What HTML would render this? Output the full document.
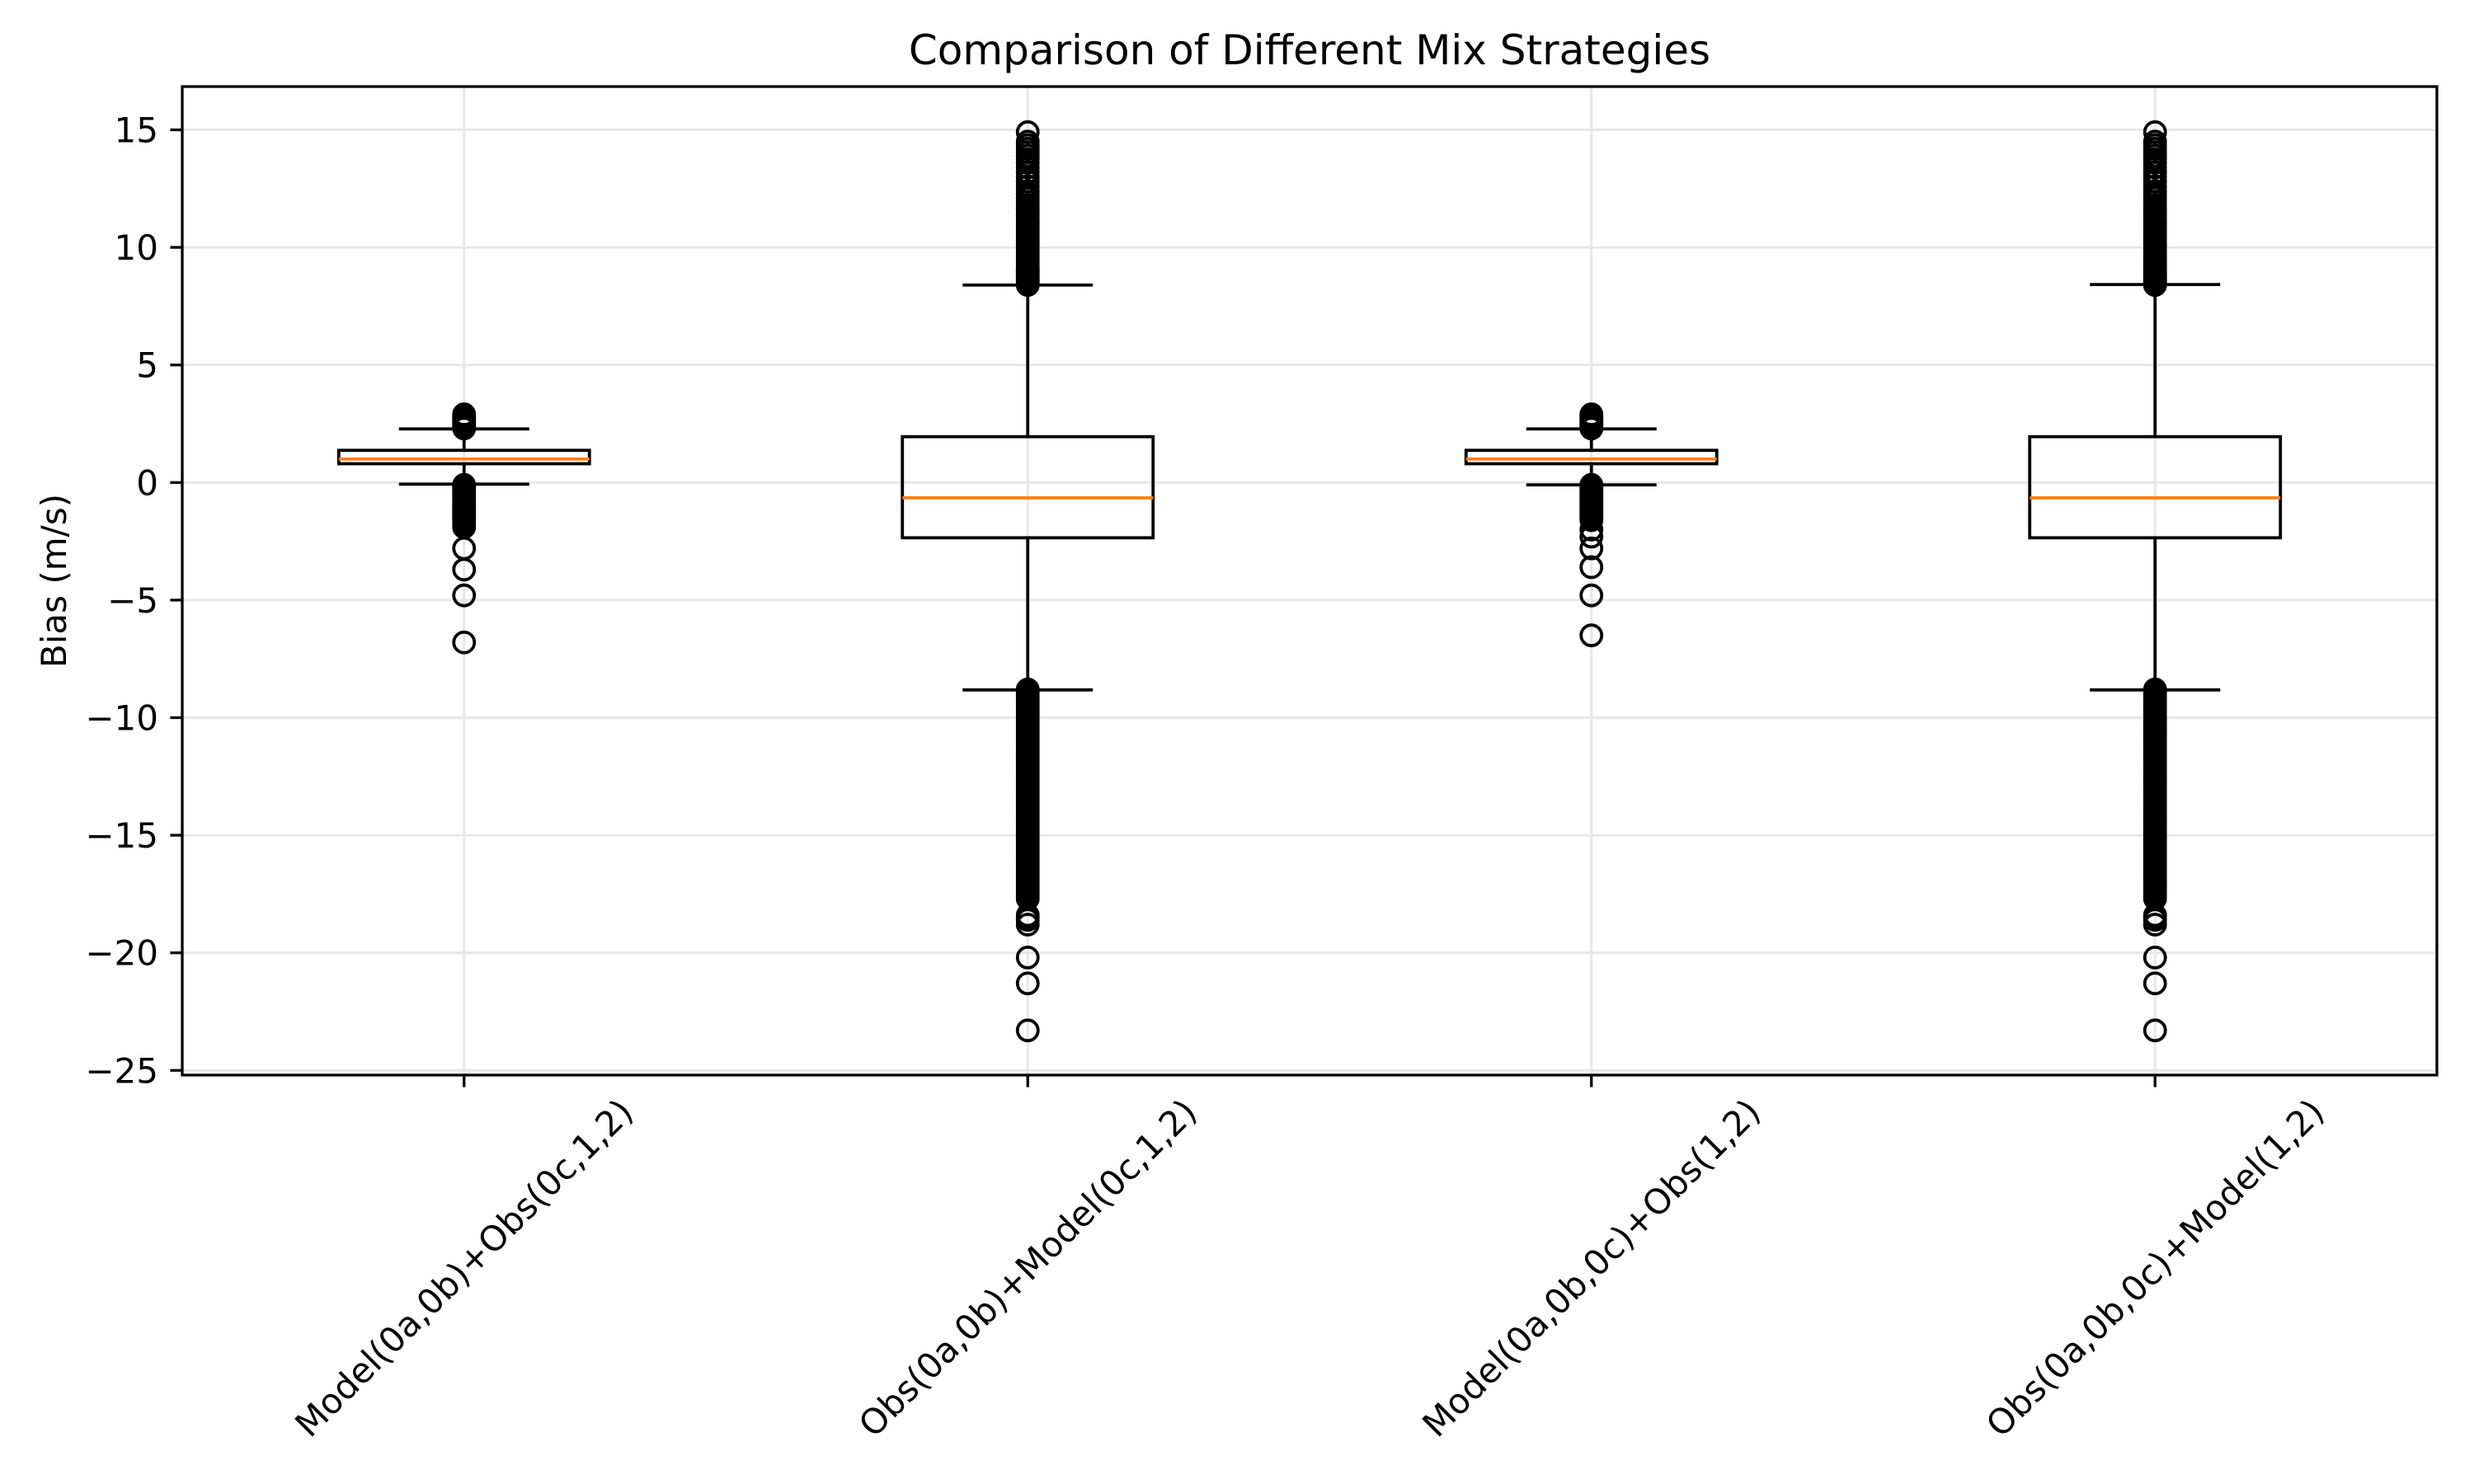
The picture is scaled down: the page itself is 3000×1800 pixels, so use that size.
<!DOCTYPE html>
<html><head><meta charset="utf-8"><style>
html,body{margin:0;padding:0;background:#fff}
svg{display:block;font-family:"DejaVu Sans","Liberation Sans",sans-serif}
</style></head><body>
<svg id="chart" width="3000" height="1800" viewBox="0 0 3000 1800" xmlns="http://www.w3.org/2000/svg">
<rect width="3000" height="1800" fill="#fff"/>
<g id="grid"></g>
<g id="boxes"></g>
<g id="axes"></g>
</svg>
<script>
const categories = ["Model(0a,0b)+Obs(0c,1,2)","Obs(0a,0b)+Model(0c,1,2)","Model(0a,0b,0c)+Obs(1,2)","Obs(0a,0b,0c)+Model(1,2)"];
const q1s = [0.8, -2.35, 0.8, -2.35];
const medians = [1.0, -0.65, 1.0, -0.65];
const q3s = [1.37, 1.95, 1.37, 1.95];
const whiskerLows = [-0.07, -8.82, -0.1, -8.82];
const whiskerHighs = [2.28, 8.4, 2.28, 8.42];
const outliers1 = [2.3,2.35,2.4,2.45,2.5,2.55,2.6,2.65,2.7,2.75,2.8,2.85,2.9,-0.1,-0.15,-0.2,-0.25,-0.3,-0.35,-0.4,-0.45,-0.5,-0.55,-0.6,-0.65,-0.7,-0.75,-0.8,-0.85,-0.9,-0.95,-1.0,-1.05,-1.1,-1.15,-1.2,-1.25,-1.3,-1.35,-1.4,-1.45,-1.5,-1.55,-1.6,-1.7,-1.8,-1.9,-2.8,-3.7,-4.8,-6.8];
const outliers2 = [8.4,8.45,8.5,8.55,8.6,8.65,8.7,8.75,8.8,8.85,8.9,8.95,9.0,9.05,9.1,9.15,9.2,9.3,9.4,9.5,9.6,9.7,9.8,9.9,10.0,10.1,10.2,10.3,10.4,10.5,10.6,10.7,10.8,10.9,11.0,11.1,11.2,11.35,11.5,11.65,11.8,11.95,12.1,12.25,12.4,12.6,12.8,13.0,13.2,13.4,13.6,13.75,13.9,14.05,14.2,14.35,14.5,14.9,
 -8.8,-8.9,-9.0,-9.1,-9.2,-9.3,-9.4,-9.5,-9.6,-9.7,-9.8,-9.9,-10.0,-10.1,-10.2,-10.3,-10.4,-10.5,-10.6,-10.7,-10.8,-10.9,-11.0,-11.1,-11.2,-11.3,-11.4,-11.5,-11.6,-11.7,-11.8,-11.9,-12.0,-12.1,-12.2,-12.3,-12.4,-12.5,-12.6,-12.7,-12.8,-12.9,-13.0,-13.1,-13.2,-13.3,-13.4,-13.5,-13.6,-13.7,-13.8,-13.9,-14.0,-14.1,-14.2,-14.3,-14.4,-14.5,-14.6,-14.7,-14.8,-14.9,-15.0,-15.1,-15.2,-15.3,-15.4,-15.5,-15.6,-15.7,-15.8,-15.9,-16.0,-16.1,-16.2,-16.3,-16.4,-16.5,-16.6,-16.7,-16.8,-16.9,-17.0,-17.1,-17.2,-17.3,-17.4,-17.5,-17.6,-17.7,-18.4,-18.5,-18.6,-18.8,-20.2,-21.3,-23.3];
const outliers3 = [2.3,2.35,2.4,2.45,2.5,2.55,2.6,2.65,2.7,2.75,2.8,2.85,2.9,-0.1,-0.15,-0.2,-0.25,-0.3,-0.35,-0.4,-0.45,-0.5,-0.55,-0.6,-0.65,-0.7,-0.75,-0.8,-0.85,-0.9,-0.95,-1.0,-1.05,-1.1,-1.15,-1.2,-1.25,-1.3,-1.35,-1.4,-1.45,-1.5,-1.55,-1.6,-2.0,-2.3,-2.8,-3.6,-4.8,-6.5];
const outliers4 = outliers2.slice();
const outlierSets = [outliers1, outliers2, outliers3, outliers4];
const yTicks = [15,10,5,0,-5,-10,-15,-20,-25];
const yTickLabels = ["15","10","5","0","\u22125","\u221210","\u221215","\u221220","\u221225"];

const NS="http://www.w3.org/2000/svg";
const L=221,R=2955,T=105,B=1304;
const yMin=-25.2, yMax=16.84;
function y(v){return B-(v-yMin)/(yMax-yMin)*(B-T);}
function x(i){return L+(i+0.5)/categories.length*(R-L);}
function mk(tag,attrs,parent){const e=document.createElementNS(NS,tag);for(const k in attrs)e.setAttribute(k,attrs[k]);parent.appendChild(e);return e;}
const grid=document.getElementById('grid'),boxes=document.getElementById('boxes'),axes=document.getElementById('axes');
const gc="#e7e7e7";
yTicks.forEach((t,i)=>{
  const g=mk('line',{x1:L,x2:R,y1:y(t),y2:y(t),stroke:gc,'stroke-width':3},grid);
  
  
  const tk=mk('line',{x1:L-14.6,x2:L,y1:y(t),y2:y(t),stroke:'#000','stroke-width':3.3},axes);
  
  
  const tx=mk('text',{x:L-29,y:y(t)+15,'text-anchor':'end','font-size':42,fill:'#000'},axes);
  tx.textContent=yTickLabels[i];
  
  
});
categories.forEach((c,i)=>{
  const cx=x(i);
  const g=mk('line',{x1:cx,x2:cx,y1:T,y2:B,stroke:gc,'stroke-width':3},grid);
  
  
  const grp=mk('g',{},boxes);
  
  
  const hw=152, cw=79, sw=3.8;
  mk('line',{x1:cx,x2:cx,y1:y(q3s[i]),y2:y(whiskerHighs[i]),stroke:'#000','stroke-width':sw},grp);
  mk('line',{x1:cx,x2:cx,y1:y(q1s[i]),y2:y(whiskerLows[i]),stroke:'#000','stroke-width':sw},grp);
  mk('line',{x1:cx-cw,x2:cx+cw,y1:y(whiskerHighs[i]),y2:y(whiskerHighs[i]),stroke:'#000','stroke-width':sw},grp);
  mk('line',{x1:cx-cw,x2:cx+cw,y1:y(whiskerLows[i]),y2:y(whiskerLows[i]),stroke:'#000','stroke-width':sw},grp);
  mk('rect',{x:cx-hw,y:y(q3s[i]),width:2*hw,height:y(q1s[i])-y(q3s[i]),fill:'none',stroke:'#000','stroke-width':sw},grp);
  mk('line',{x1:cx-hw,x2:cx+hw,y1:y(medians[i]),y2:y(medians[i]),stroke:'#ff7f0e','stroke-width':sw},grp);
  outlierSets[i].forEach(v=>{
    const o=mk('circle',{cx:cx,cy:y(v),r:12.5,fill:'none',stroke:'#000','stroke-width':3.8},grp);
    
    
  });
  const tk=mk('line',{x1:cx,x2:cx,y1:B,y2:B+14.6,stroke:'#000','stroke-width':3.3},axes);
  
  
  const tx=mk('text',{'text-anchor':'middle','dominant-baseline':'central','font-size':42,fill:'#000',
    transform:`translate(${cx},${B+29+205}) rotate(-45)`},axes);
  tx.textContent=c;
  
  
});
const frame=mk('rect',{x:L,y:T,width:R-L,height:B-T,fill:'none',stroke:'#000','stroke-width':3.3},axes);


const title=mk('text',{x:(L+R)/2,y:78,'text-anchor':'middle','font-size':50,fill:'#000'},axes);
title.textContent="Comparison of Different Mix Strategies";


const yl=mk('text',{'text-anchor':'middle','font-size':42,fill:'#000',transform:`translate(80,${(T+B)/2}) rotate(-90)`},axes);
yl.textContent="Bias (m/s)";


</script>
</body></html>
